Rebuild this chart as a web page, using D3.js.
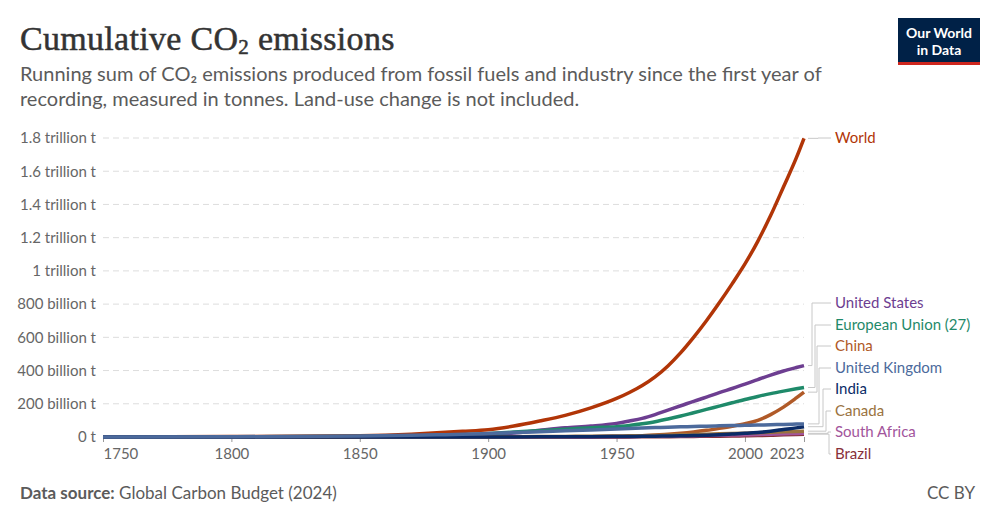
<!DOCTYPE html>
<html>
<head>
<meta charset="utf-8">
<script src="https://cdn.jsdelivr.net/npm/d3@7"></script>
<style>
  body { margin: 0; background: #fff; }
  svg text { font-family: Lato, "Noto Sans", sans-serif; }
</style>
</head>
<body>
<div id="chart"></div>
<script>
// Cumulative CO2, billion tonnes
const years = [1750, 1800, 1850, 1870, 1880, 1890, 1900, 1910, 1920, 1930, 1940, 1950, 1955, 1960, 1965,
  1970, 1975, 1980, 1985, 1990, 1995, 2000, 2005, 2010, 2015, 2020, 2023];

const world   = [0.01, 2.5, 8, 17, 25, 34, 44, 66, 96, 130, 175, 232, 268, 310, 362, 428, 508, 600, 700, 808, 922, 1042, 1178, 1333, 1505, 1680, 1798];
const usa     = [0, 0.1, 0.6, 2, 4, 8, 14, 24, 40, 55, 66, 82, 96, 112, 135, 162, 188, 215, 240, 267, 292, 318, 346, 373, 397, 418, 430];
const eu      = [0, 0.5, 3, 6, 9, 13, 20, 30, 38, 46, 56, 62, 70, 80, 92, 108, 126, 146, 166, 186, 206, 226, 244, 261, 276, 290, 298];
const china   = [0, 0, 0, 0, 0, 0.05, 0.2, 0.6, 1, 1.5, 2, 2.5, 4, 8, 12, 16, 22, 30, 40, 52, 65, 80, 100, 135, 180, 235, 270];
const uk      = [0.1, 1.5, 6, 10, 13, 16, 21, 27, 32, 37, 42, 48, 51, 54, 56.5, 59, 61, 63, 65, 67, 68.5, 70, 72, 74, 76, 78, 79];
const india   = [0, 0, 0, 0, 0, 0.1, 0.3, 0.6, 1, 1.4, 2, 2.5, 3.2, 4, 5, 6, 7.5, 9, 11, 14, 18, 22, 27, 35, 45, 55, 62];
const canada  = [0, 0, 0, 0.05, 0.1, 0.3, 0.6, 1.5, 2.5, 3.5, 4.5, 6, 7, 8, 9.5, 11, 13, 15, 17, 19, 21, 23, 26, 28.5, 31, 33.5, 35];
const safrica = [0, 0, 0, 0, 0, 0.05, 0.2, 0.5, 1, 1.5, 2, 2.8, 3.4, 4, 4.7, 5.5, 6.7, 8, 9.2, 10.5, 11.7, 13, 15, 17, 19, 21, 22];
const brazil  = [0, 0, 0, 0, 0, 0, 0.02, 0.05, 0.1, 0.2, 0.3, 0.5, 0.7, 1, 1.5, 2, 2.7, 3.5, 4.2, 5, 6, 7, 8.5, 10.5, 13, 15.5, 17];

const series = [
  { name: 'World', values: world, color: '#b13507' },
  { name: 'United States', values: usa, color: '#6d3e91' },
  { name: 'European Union (27)', values: eu, color: '#1f8a6a' },
  { name: 'China', values: china, color: '#b05a28' },
  { name: 'United Kingdom', values: uk, color: '#4c6a9c' },
  { name: 'India', values: india, color: '#0b2b66' },
  { name: 'Canada', values: canada, color: '#9a733f' },
  { name: 'South Africa', values: safrica, color: '#a2559c' },
  { name: 'Brazil', values: brazil, color: '#883039' }
];

const yTicks = [0, 200, 400, 600, 800, 1000, 1200, 1400, 1600, 1800];
const yTickLabels = ['0 t', '200 billion t', '400 billion t', '600 billion t', '800 billion t',
  '1 trillion t', '1.2 trillion t', '1.4 trillion t', '1.6 trillion t', '1.8 trillion t'];
const xTicks = [1750, 1800, 1850, 1900, 1950, 2000, 2023];

const W = 1000, H = 523;
const svg = d3.select('#chart').append('svg').attr('width', W).attr('height', H);

const x = d3.scaleLinear().domain([1750, 2023]).range([103, 804]);
const y = d3.scaleLinear().domain([0, 1800]).range([437, 138]);

// Title and subtitle
svg.append('text')
  .attr('x', 20).attr('y', 50)
  .style('font-family', '"Liberation Serif", "DejaVu Serif", serif')
  .style('font-size', '34px')
  .style('letter-spacing', '0.3px')
  .attr('fill', '#333').attr('stroke', '#333').attr('stroke-width', 0.5)
  .html('Cumulative CO<tspan font-size="21px" dy="4">2</tspan><tspan dy="-4"> emissions</tspan>');

svg.append('text').attr('x', 20).attr('y', 81)
  .style('font-size', '20px').attr('fill', '#5b5b5b')
  .text('Running sum of CO₂ emissions produced from fossil fuels and industry since the first year of');
svg.append('text').attr('x', 20).attr('y', 106)
  .style('font-size', '20px').attr('fill', '#5b5b5b')
  .text('recording, measured in tonnes. Land-use change is not included.');

// Logo
const logo = svg.append('g');
logo.append('rect').attr('x', 898).attr('y', 18).attr('width', 82).attr('height', 47).attr('fill', '#002147');
logo.append('rect').attr('x', 898).attr('y', 62).attr('width', 82).attr('height', 3).attr('fill', '#ce261e');
logo.append('text').attr('x', 939).attr('y', 38).attr('text-anchor', 'middle')
  .attr('fill', '#fff').style('font-size', '14px').style('font-weight', 700).text('Our World');
logo.append('text').attr('x', 939).attr('y', 55).attr('text-anchor', 'middle')
  .attr('fill', '#fff').style('font-size', '14px').style('font-weight', 700).text('in Data');

// Grid
svg.append('g')
  .selectAll('line')
  .data(yTicks.slice(1))
  .join('line')
  .attr('x1', 103).attr('x2', 804)
  .attr('y1', d => y(d)).attr('y2', d => y(d))
  .attr('stroke', '#dddddd').attr('stroke-dasharray', '6,4');

// Y axis labels
const yAxis = svg.append('g')
  .attr('transform', 'translate(100,0)')
  .call(d3.axisLeft(y).tickValues(yTicks).tickSize(0).tickPadding(4)
    .tickFormat((d, i) => yTickLabels[i]));
yAxis.select('.domain').remove();
yAxis.selectAll('text').style('font-size', '15px').attr('fill', '#666').style('font-family', 'Lato, sans-serif');

// X axis
const xAxis = svg.append('g')
  .attr('transform', 'translate(0,437)')
  .call(d3.axisBottom(x).tickValues(xTicks).tickFormat(d3.format('d')).tickSize(5).tickPadding(6));
xAxis.select('.domain').remove();
xAxis.selectAll('line').attr('stroke', '#999');
xAxis.selectAll('text').style('font-size', '15px').attr('fill', '#666').style('font-family', 'Lato, sans-serif')
  .attr('text-anchor', d => d === 1750 ? 'start' : d === 2023 ? 'end' : 'middle');

// Lines
const line = d3.line()
  .x((d, i) => x(years[i]))
  .y(d => y(d))
  .curve(d3.curveMonotoneX);

const drawOrder = [0, 3, 1, 2, 8, 7, 6, 5, 4];
svg.append('g')
  .selectAll('path')
  .data(drawOrder.map(i => series[i]))
  .join('path')
  .attr('d', d => line(d.values))
  .attr('fill', 'none')
  .attr('stroke', d => d.color)
  .attr('stroke-width', 3.5)
  .attr('stroke-linejoin', 'round');

// Labels with connectors
const labelY = [138, 303, 325, 346, 368, 389, 411, 432, 454];
const elbowX = [818, 812, 815, 817, 819, 823, 826, 828, 829];
const conn = svg.append('g');
series.forEach((s, i) => {
  const yEnd = y(s.values[s.values.length - 1]);
  const ly = labelY[i];
  const ex = elbowX[i];
  conn.append('path')
    .attr('d', `M${x(2023) + 4},${yEnd}H${ex}V${ly}H${831}`)
    .attr('fill', 'none').attr('stroke', '#c8c8c8').attr('stroke-width', 1);
  svg.append('text')
    .attr('x', 835).attr('y', ly + 5)
    .style('font-size', '15px')
    .attr('fill', s.color)
    .text(s.name);
});

// Footer
svg.append('text').attr('x', 20).attr('y', 499)
  .style('font-size', '17px').attr('fill', '#5b5b5b')
  .html('<tspan font-weight="700">Data source:</tspan> Global Carbon Budget (2024)');
svg.append('text').attr('x', 975).attr('y', 499).attr('text-anchor', 'end')
  .style('font-size', '17px').attr('fill', '#5b5b5b')
  .text('CC BY');
</script>
</body>
</html>
